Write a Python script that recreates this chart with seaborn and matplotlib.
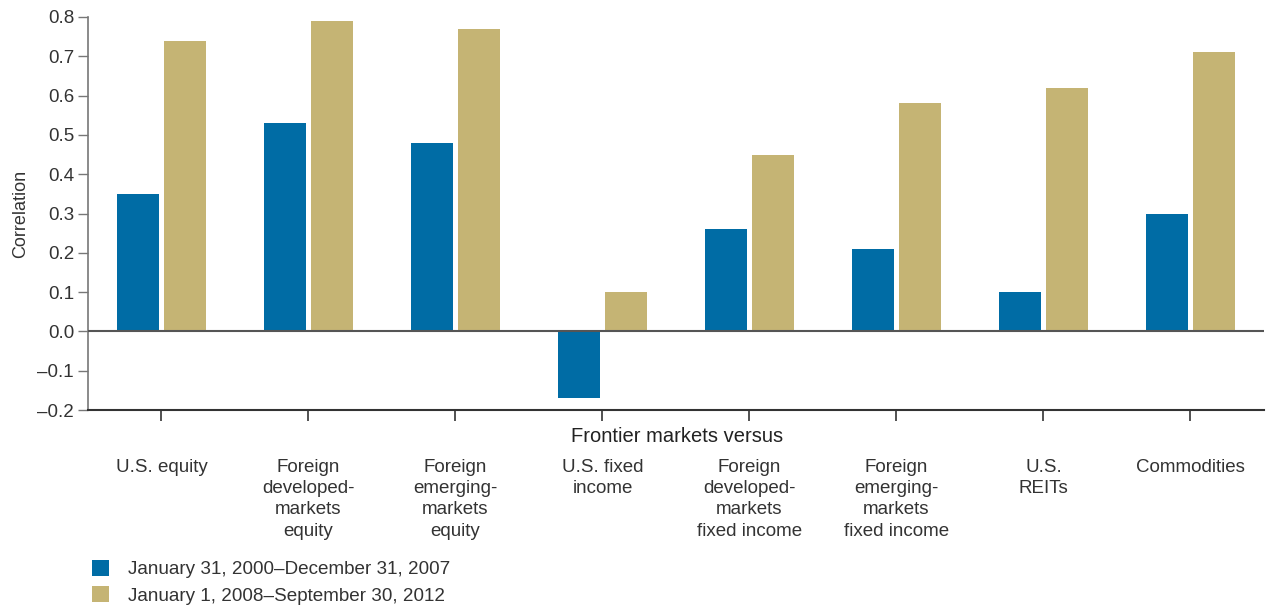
import pandas as pd
import matplotlib.pyplot as plt
import seaborn as sns

# categories and series
categories = ["U.S. equity", "Foreign\ndeveloped-\nmarkets\nequity", "Foreign\nemerging-\nmarkets\nequity",
              "U.S. fixed\nincome", "Foreign\ndeveloped-\nmarkets\nfixed income",
              "Foreign\nemerging-\nmarkets\nfixed income", "U.S.\nREITs", "Commodities"]
period_1 = [0.35, 0.53, 0.48, -0.17, 0.26, 0.21, 0.10, 0.30]
period_2 = [0.74, 0.79, 0.77, 0.10, 0.45, 0.58, 0.62, 0.71]
series_names = ["January 31, 2000\u2013December 31, 2007", "January 1, 2008\u2013September 30, 2012"]
yticks = [-0.2, -0.1, 0.0, 0.1, 0.2, 0.3, 0.4, 0.5, 0.6, 0.7, 0.8]

df = pd.DataFrame({
    "Category": categories * 2,
    "Correlation": period_1 + period_2,
    "Period": [series_names[0]] * len(categories) + [series_names[1]] * len(categories),
})

sns.set_style("white")
plt.rcParams['font.family'] = ['Liberation Sans', 'DejaVu Sans']
text_color = "#333333"

fig = plt.figure(figsize=(12.68, 6.07), dpi=100)
ax = fig.add_axes([0.0694, 0.3245, 0.9274, 0.6475])

sns.barplot(data=df, x="Category", y="Correlation", hue="Period",
            palette=["#006CA5", "#C5B474"], width=0.64, gap=0.11,
            saturation=1, linewidth=0, ax=ax, legend=True)

ax.set_xlim(-0.5, 7.5)
ax.set_ylim(-0.2, 0.8)
ax.set_yticks(yticks)
ax.set_yticklabels([f"{v:.1f}".replace("-", "\u2013") for v in yticks])
ax.axhline(0, color="#555555", linewidth=1.5, zorder=5)

for s in ["top", "right"]:
    ax.spines[s].set_visible(False)
ax.spines["left"].set_color("#777777")
ax.spines["left"].set_linewidth(1.2)
ax.spines["bottom"].set_color("#333333")
ax.spines["bottom"].set_linewidth(1.5)

ax.tick_params(axis="y", direction="out", length=7, width=1, color="#777777",
               labelsize=13.5, labelcolor=text_color, left=True, pad=3)
ax.tick_params(axis="x", direction="out", length=8, width=1.2, color="#333333",
               labelsize=13.5, labelcolor=text_color, bottom=True, pad=27)
for lab in ax.get_xticklabels():
    lab.set_linespacing(1.33)
    lab.set_verticalalignment("top")

ax.set_xlabel("")
ax.set_ylabel("Correlation", fontsize=13, color=text_color, labelpad=6)
fig.text(0.534, 1 - 436 / 607, "Frontier markets versus", ha="center", va="center",
         fontsize=14.5, color="#222222", fontweight="medium")

handles, labels = ax.get_legend_handles_labels()
ax.legend_.remove()
fig.legend(handles, labels, loc="lower left", bbox_to_anchor=(0.059, -0.024),
           frameon=False, fontsize=13.6, handlelength=0.9, handleheight=0.9,
           handletextpad=1.0, labelspacing=0.42, labelcolor=text_color)

fig.savefig("out.png", dpi=100)
